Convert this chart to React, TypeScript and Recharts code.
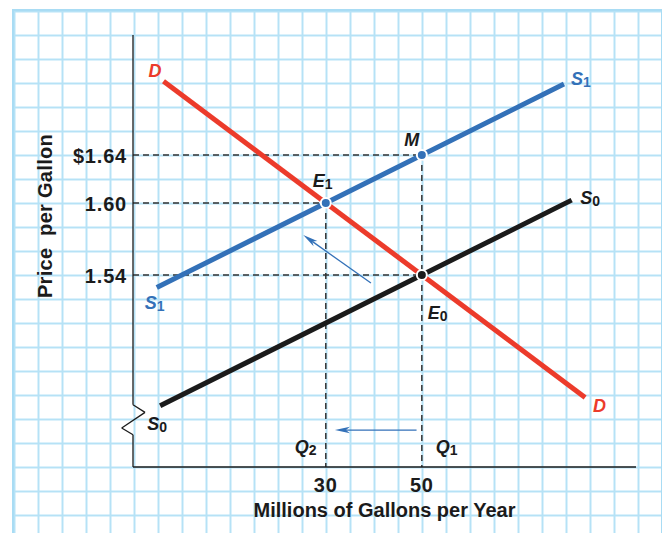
import React from 'react';
import { ComposedChart, Line, XAxis, YAxis, ReferenceLine, ReferenceDot } from 'recharts';

// ---- data (quantity in millions of gallons, price in $ per gallon) ----
const demandQty = [-3.8, 84];
const demandPrice = [1.7014, 1.438];
const supply1Qty = [-5.2, 79.6];
const supply1Price = [1.5296, 1.6992];
const supply0Qty = [-4.5, 81.2];
const supply0Price = [1.431, 1.6024];

const priceTicks = [1.54, 1.6, 1.64];
const priceTickLabels = ['1.54', '1.60', '$1.64'];
const qtyTicks = [30, 50];
const qtyTickLabels = ['30', '50'];

const pointNames = ['E', 'E', 'M'];
const pointSubs = ['1', '0', ''];
const pointQty = [30, 50, 50];
const pointPrice = [1.6, 1.54, 1.64];

const arrowFromQty = [39.4, 48.9];
const arrowFromPrice = [1.5333, 1.4108];
const arrowToQty = [25.3, 31.9];
const arrowToPrice = [1.5733, 1.4108];

const Q_DOMAIN: [number, number] = [-10.15, 94.6];
const P_DOMAIN: [number, number] = [1.38, 1.74];

const RED = '#ec3b2b';
const BLUE = '#3371b8';
const BLACK = '#1b1b1b';
const DASH = '#333333';
const FONT = "'Liberation Sans', Arial, sans-serif";

const toRows = (qs: number[], ps: number[]) => qs.map((q, i) => ({ q, p: ps[i] }));
const demandData = toRows(demandQty, demandPrice);
const supply1Data = toRows(supply1Qty, supply1Price);
const supply0Data = toRows(supply0Qty, supply0Price);

type Tag = { main: string; sub?: string; color: string; dx: number; dy: number };

const tagContent = (t: Tag) => (props: any) => {
  const vb = props.viewBox || {};
  const cx = (vb.x ?? 0) + (vb.width ?? 0) / 2;
  const cy = (vb.y ?? 0) + (vb.height ?? 0) / 2;
  return (
    <text
      x={cx + t.dx}
      y={cy + t.dy}
      fill={t.color}
      fontFamily={FONT}
      fontWeight={700}
      fontStyle="italic"
      fontSize={18}
    >
      {t.main}
      {t.sub ? (
        <tspan fontSize={14} fontStyle="normal" dy={2}>
          {t.sub}
        </tspan>
      ) : null}
    </text>
  );
};

const ArrowShape = (props: any) => {
  const { x1, y1, x2, y2 } = props;
  if ([x1, y1, x2, y2].some((v) => typeof v !== 'number' || isNaN(v))) return <g />;
  const ang = Math.atan2(y2 - y1, x2 - x1);
  const L = 15;
  const W = 3.2;
  const bx = x2 - L * Math.cos(ang);
  const by = y2 - L * Math.sin(ang);
  const nx = x2 - (L - 4) * Math.cos(ang);
  const ny = y2 - (L - 4) * Math.sin(ang);
  const px = -Math.sin(ang) * W;
  const py = Math.cos(ang) * W;
  return (
    <g>
      <line x1={x1} y1={y1} x2={nx} y2={ny} stroke={BLUE} strokeWidth={1.3} />
      <polygon
        points={`${x2},${y2} ${bx + px},${by + py} ${nx},${ny} ${bx - px},${by - py}`}
        fill={BLUE}
      />
    </g>
  );
};

const YTick = (props: any) => {
  const { x, y, payload } = props;
  const idx = priceTicks.indexOf(payload.value);
  return (
    <text
      x={x}
      y={y}
      dy={8}
      textAnchor="end"
      fill={BLACK}
      fontFamily={FONT}
      fontWeight={700}
      fontSize={20}
      letterSpacing={0.8}
    >
      {idx >= 0 ? priceTickLabels[idx] : payload.value}
    </text>
  );
};

const XTick = (props: any) => {
  const { x, y, payload } = props;
  const idx = qtyTicks.indexOf(payload.value);
  return (
    <text
      x={x}
      y={y}
      dy={20.5}
      textAnchor="middle"
      fill={BLACK}
      fontFamily={FONT}
      fontWeight={700}
      fontSize={20}
      letterSpacing={0.8}
    >
      {idx >= 0 ? qtyTickLabels[idx] : payload.value}
    </text>
  );
};

const XTitle = (props: any) => {
  const vb = props.viewBox || {};
  return (
    <text
      x={(vb.x ?? 0) + (vb.width ?? 0) / 2}
      y={(vb.y ?? 0) + 49.5}
      textAnchor="middle"
      fill={BLACK}
      fontFamily={FONT}
      fontWeight={700}
      fontSize={20}
    >
      Millions of Gallons per Year
    </text>
  );
};

const YTitle = (props: any) => {
  const vb = props.viewBox || {};
  const x = (vb.x ?? 0) - 21.5;
  const y = (vb.y ?? 0) + 181;
  return (
    <text
      x={x}
      y={y}
      transform={`rotate(-90, ${x}, ${y})`}
      textAnchor="middle"
      fill={BLACK}
      fontFamily={FONT}
      fontWeight={700}
      fontSize={20}
      letterSpacing={0.3}
      style={{ whiteSpace: 'pre' }}
    >
      {'Price  per Gallon'}
    </text>
  );
};

export default function App() {
  const qMin = Q_DOMAIN[0];
  const pMin = P_DOMAIN[0];
  const pMax = P_DOMAIN[1];
  // axis break (zig-zag) on the price axis
  const breakPath = [
    { x: qMin, y: pMax },
    { x: qMin, y: 1.4319 },
    { x: -7.65, y: 1.4255 },
    { x: -12.5, y: 1.4125 },
    { x: qMin, y: 1.4069 },
    { x: qMin, y: pMin },
  ];

  const pointColors = [BLUE, BLACK, BLUE];
  const pointTags: Tag[] = [
    { main: 'E', sub: '1', color: BLACK, dx: -13, dy: -16 },
    { main: 'E', sub: '0', color: BLACK, dx: 6, dy: 43.5 },
    { main: 'M', color: BLACK, dx: -17.5, dy: -9 },
  ];

  return (
    <div
      style={{
        position: 'absolute',
        left: 0,
        top: 0,
        width: 662,
        height: 533,
        background: '#ffffff',
        overflow: 'hidden',
      }}
    >
      <div
        style={{
          position: 'absolute',
          left: 12,
          top: 9,
          width: 647,
          height: 540,
          borderLeft: '2.5px solid #a9dcf4',
          borderTop: '2.5px solid #a9dcf4',
          borderRight: '2.5px solid #a9dcf4',
          backgroundImage:
            'linear-gradient(to right, #b6e2f6 2px, transparent 2px), linear-gradient(to bottom, #b6e2f6 2px, transparent 2px)',
          backgroundSize: '24px 24px',
          backgroundPosition: '-0.5px -0.5px',
        }}
      />
      <div style={{ position: 'absolute', left: 0, top: 0 }}>
        <ComposedChart width={662} height={533} margin={{ top: 35, right: 26, left: 73, bottom: 36 }}>
          <XAxis
            type="number"
            dataKey="q"
            domain={Q_DOMAIN}
            allowDataOverflow
            ticks={qtyTicks}
            tick={<XTick />}
            tickLine={false}
            tickSize={0}
            tickMargin={4}
            height={30}
            axisLine={{ stroke: BLACK, strokeWidth: 1.3 }}
            label={{ content: (p: any) => <XTitle {...p} /> }}
          />
          <YAxis
            type="number"
            dataKey="p"
            domain={P_DOMAIN}
            allowDataOverflow
            ticks={priceTicks}
            tick={<YTick />}
            tickLine={false}
            tickSize={0}
            tickMargin={6}
            width={60}
            axisLine={false}
            label={{ content: (p: any) => <YTitle {...p} /> }}
          />

          {/* dashed guide lines */}
          {pointQty.map((q, i) => (
            <ReferenceLine
              key={'h' + i}
              segment={[
                { x: qMin, y: pointPrice[i] },
                { x: q, y: pointPrice[i] },
              ]}
              stroke={DASH}
              strokeWidth={1.5}
              strokeDasharray="6 4"
              ifOverflow="visible"
            />
          ))}
          {pointQty.map((q, i) =>
            i === 1 ? null : (
              <ReferenceLine
                key={'v' + i}
                segment={[
                  { x: q, y: pointPrice[i] },
                  { x: q, y: pMin },
                ]}
                stroke={DASH}
                strokeWidth={1.5}
                strokeDasharray="6 4"
                ifOverflow="visible"
              />
            )
          )}

          {/* price axis with break */}
          {breakPath.slice(1).map((pt, i) => (
            <ReferenceLine
              key={'ax' + i}
              segment={[breakPath[i], pt]}
              stroke={BLACK}
              strokeWidth={1.3}
              ifOverflow="visible"
            />
          ))}

          {/* shift arrows */}
          {arrowFromQty.map((q, i) => (
            <ReferenceLine
              key={'ar' + i}
              segment={[
                { x: q, y: arrowFromPrice[i] },
                { x: arrowToQty[i], y: arrowToPrice[i] },
              ]}
              ifOverflow="visible"
              shape={(p: any) => <ArrowShape {...p} />}
            />
          ))}

          <Line data={supply0Data} dataKey="p" type="linear" stroke={BLACK} strokeWidth={5} dot={false} activeDot={false} isAnimationActive={false} />
          <Line data={supply1Data} dataKey="p" type="linear" stroke={BLUE} strokeWidth={5} dot={false} activeDot={false} isAnimationActive={false} />
          <Line data={demandData} dataKey="p" type="linear" stroke={RED} strokeWidth={5} dot={false} activeDot={false} isAnimationActive={false} />

          {/* curve labels */}
          <ReferenceDot x={demandQty[0]} y={demandPrice[0]} r={0} fill="none" stroke="none" ifOverflow="visible"
            label={{ content: tagContent({ main: 'D', color: RED, dx: -15, dy: -4 }) }} />
          <ReferenceDot x={demandQty[1]} y={demandPrice[1]} r={0} fill="none" stroke="none" ifOverflow="visible"
            label={{ content: tagContent({ main: 'D', color: RED, dx: 8, dy: 15 }) }} />
          <ReferenceDot x={supply1Qty[1]} y={supply1Price[1]} r={0} fill="none" stroke="none" ifOverflow="visible"
            label={{ content: tagContent({ main: 'S', sub: '1', color: BLUE, dx: 7, dy: 1 }) }} />
          <ReferenceDot x={supply1Qty[0]} y={supply1Price[0]} r={0} fill="none" stroke="none" ifOverflow="visible"
            label={{ content: tagContent({ main: 'S', sub: '1', color: BLUE, dx: -12, dy: 21.5 }) }} />
          <ReferenceDot x={supply0Qty[1]} y={supply0Price[1]} r={0} fill="none" stroke="none" ifOverflow="visible"
            label={{ content: tagContent({ main: 'S', sub: '0', color: BLACK, dx: 8.5, dy: 3.5 }) }} />
          <ReferenceDot x={supply0Qty[0]} y={supply0Price[0]} r={0} fill="none" stroke="none" ifOverflow="visible"
            label={{ content: tagContent({ main: 'S', sub: '0', color: BLACK, dx: -13, dy: 24 }) }} />

          {/* quantity markers */}
          <ReferenceDot x={qtyTicks[0]} y={pMin} r={0} fill="none" stroke="none" ifOverflow="visible"
            label={{ content: tagContent({ main: 'Q', sub: '2', color: BLACK, dx: -31, dy: -14 }) }} />
          <ReferenceDot x={qtyTicks[1]} y={pMin} r={0} fill="none" stroke="none" ifOverflow="visible"
            label={{ content: tagContent({ main: 'Q', sub: '1', color: BLACK, dx: 14, dy: -14 }) }} />

          {/* equilibrium points */}
          {pointQty.map((q, i) => (
            <ReferenceDot
              key={'pt' + i}
              x={q}
              y={pointPrice[i]}
              r={5}
              fill={pointColors[i]}
              stroke="#ffffff"
              strokeWidth={2}
              ifOverflow="visible"
              label={{ content: tagContent({ ...pointTags[i], main: pointNames[i], sub: pointSubs[i] || undefined }) }}
            />
          ))}
        </ComposedChart>
      </div>
    </div>
  );
}
